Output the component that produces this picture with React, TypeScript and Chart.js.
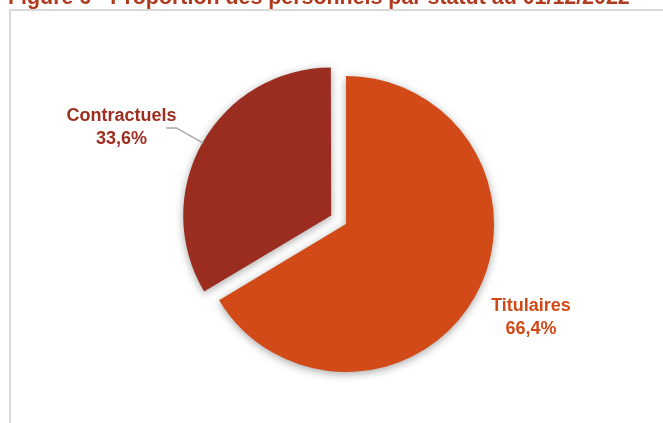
import React, { useEffect, useRef } from "react";
import { Chart, registerables } from "chart.js";

Chart.register(...registerables);

// ---- data ----
const TITLE = "Figure 6 - Proportion des personnels par statut au 01/12/2022";
const categories = ["Titulaires", "Contractuels"];
const values = [66.4, 33.6];
const sliceColors = ["#D24A18", "#9B2D20"];
const labelColors = ["#D24A18", "#9E2E20"];
const explodeOffsets = [0, 68]; // chart.js arc offset (drawn as offset / 4 px)

// ---- layout (label anchors relative to slice centre, in radii) ----
const LABEL_POS: [number, number][] = [
  [1.25, 0.59],
  [-1.417, -0.636],
];
const HAS_LEADER = [false, true];
const FONT = "bold 18px 'Liberation Sans', Arial, sans-serif";
const LINE_GAP = 22.5;

const fmt = (v: number) => v.toFixed(1).replace(".", ",") + "%";

// keep exploded slices the same radius as the others (chart.js enlarges them slightly)
const radiusFixPlugin = {
  id: "radiusFix",
  afterDatasetUpdate(chart: any) {
    const meta = chart.getDatasetMeta(0);
    meta.data.forEach((arc: any, i: number) => {
      const off = explodeOffsets[i] / 4;
      if (!off) return;
      const circ = arc.endAngle - arc.startAngle;
      const fix = 1 - Math.sin(Math.min(Math.PI, circ));
      arc.outerRadius = arc.outerRadius - off * fix;
    });
  },
};

const shadowPlugin = {
  id: "sliceShadow",
  beforeDatasetsDraw(chart: any) {
    const ctx = chart.ctx;
    ctx.save();
    ctx.shadowColor = "rgba(0,0,0,0.35)";
    ctx.shadowBlur = 8;
    ctx.shadowOffsetX = 0;
    ctx.shadowOffsetY = 2;
  },
  afterDatasetsDraw(chart: any) {
    chart.ctx.restore();
  },
};

const labelPlugin = {
  id: "sliceLabels",
  afterDraw(chart: any) {
    const ctx = chart.ctx;
    const meta = chart.getDatasetMeta(0);
    const R = meta.controller.outerRadius;
    meta.data.forEach((arc: any, i: number) => {
      const { x, y, startAngle, endAngle } = arc.getProps(
        ["x", "y", "startAngle", "endAngle"],
        true
      );
      const mid = (startAngle + endAngle) / 2;
      const off = explodeOffsets[i] / 4;
      const cx = x + Math.cos(mid) * off;
      const cy = y + Math.sin(mid) * off;
      const [fx, fy] = LABEL_POS[i];
      const lx = cx + fx * R;
      const ly = cy + fy * R;

      if (HAS_LEADER[i]) {
        const ex = cx + Math.cos(mid) * (R - 1);
        const ey = cy + Math.sin(mid) * (R - 1);
        const bx = cx + Math.cos(mid) * (R + 30);
        const by = cy + Math.sin(mid) * (R + 30);
        ctx.save();
        ctx.strokeStyle = "#A6A6A6";
        ctx.lineWidth = 1.5;
        ctx.beginPath();
        ctx.moveTo(ex, ey);
        ctx.lineTo(bx, by);
        ctx.lineTo(bx - 10, by);
        ctx.stroke();
        ctx.restore();
      }

      ctx.save();
      ctx.font = FONT;
      ctx.fillStyle = labelColors[i];
      ctx.textAlign = "center";
      ctx.textBaseline = "alphabetic";
      ctx.fillText(categories[i], lx, ly);
      ctx.fillText(fmt(values[i]), lx, ly + LINE_GAP);
      ctx.restore();
    });
  },
};

export default function App() {
  const canvasRef = useRef<HTMLCanvasElement | null>(null);

  useEffect(() => {
    if (!canvasRef.current) return;
    const chart = new Chart(canvasRef.current, {
      type: "pie",
      data: {
        labels: categories,
        datasets: [
          {
            data: values,
            backgroundColor: sliceColors,
            borderWidth: 0,
            offset: explodeOffsets,
            hoverOffset: 0,
          },
        ],
      },
      options: {
        responsive: false,
        animation: false,
        devicePixelRatio: 1,
        radius: 148,
        layout: { padding: { left: 29, right: 0, top: 25, bottom: 0 } },
        plugins: {
          legend: { display: false },
          tooltip: { enabled: false },
          title: { display: false },
        },
        events: [],
      },
      plugins: [radiusFixPlugin, shadowPlugin, labelPlugin],
    } as any);
    return () => chart.destroy();
  }, []);

  return (
    <div
      style={{
        position: "absolute",
        left: 0,
        top: 0,
        width: 663,
        height: 423,
        overflow: "hidden",
        background: "#ffffff",
      }}
    >
      <div
        style={{
          position: "absolute",
          left: 9,
          top: 9,
          width: 720,
          height: 500,
          border: "2px solid #D9D9D9",
          boxSizing: "border-box",
        }}
      />
      <canvas
        ref={canvasRef}
        width={663}
        height={423}
        style={{ position: "absolute", left: 0, top: 0, display: "block" }}
      />
      <div
        style={{
          position: "absolute",
          left: 8,
          top: -13,
          whiteSpace: "nowrap",
          font: "bold 21.4px 'Liberation Sans', Arial, sans-serif",
          lineHeight: "21.4px",
          color: "#B03A1E",
        }}
      >
        {TITLE}
      </div>
    </div>
  );
}
